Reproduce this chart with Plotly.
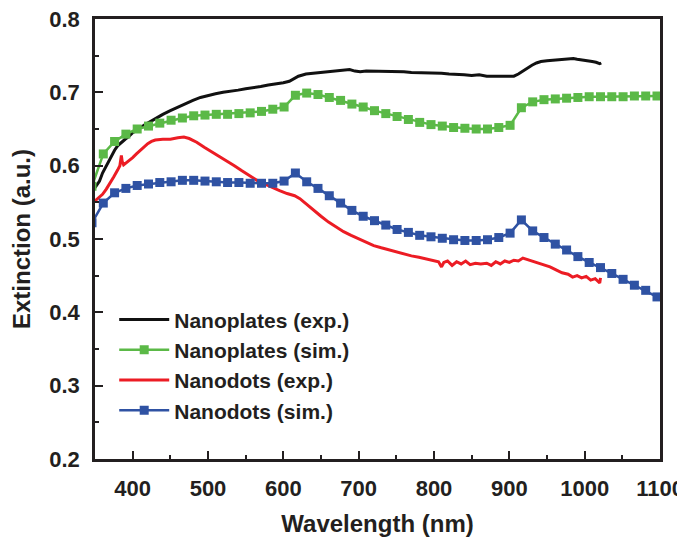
import plotly.graph_objects as go

# simulated spectra (markers every 15 nm)
sim_wl = [346, 361, 376, 391, 406, 421, 436, 451, 466, 481,
          496, 511, 526, 541, 556, 571, 586, 601, 616, 631,
          646, 661, 676, 691, 706, 721, 736, 751, 766, 781,
          796, 811, 826, 841, 856, 871, 886, 901, 916, 931,
          946, 961, 976, 991, 1006, 1021, 1036, 1051, 1066, 1081, 1096]
plates_sim = [0.572, 0.616, 0.633, 0.643, 0.650, 0.654, 0.658, 0.662, 0.665, 0.668,
              0.669, 0.670, 0.670, 0.671, 0.672, 0.674, 0.677, 0.680, 0.696, 0.699,
              0.697, 0.693, 0.689, 0.684, 0.680, 0.675, 0.671, 0.667, 0.663, 0.659,
              0.656, 0.654, 0.652, 0.651, 0.650, 0.650, 0.652, 0.655, 0.679, 0.687,
              0.690, 0.691, 0.692, 0.693, 0.694, 0.694, 0.694, 0.694, 0.695, 0.695, 0.695]
dots_sim = [0.522, 0.549, 0.563, 0.569, 0.573, 0.575, 0.577, 0.578, 0.580, 0.580,
            0.579, 0.578, 0.577, 0.577, 0.576, 0.576, 0.576, 0.579, 0.590, 0.578,
            0.569, 0.559, 0.549, 0.539, 0.531, 0.525, 0.519, 0.513, 0.509, 0.505,
            0.503, 0.501, 0.499, 0.498, 0.498, 0.499, 0.502, 0.508, 0.526, 0.511,
            0.502, 0.493, 0.485, 0.476, 0.468, 0.461, 0.453, 0.445, 0.437, 0.430, 0.421]

# measured spectra
plates_wl = [350, 353, 356, 360, 364, 368, 372, 376, 380, 385, 390, 395, 400, 405, 410,
             415, 420, 425, 430, 440, 450, 460, 470, 480, 490, 500, 510, 520, 530, 540,
             550, 560, 570, 580, 590, 600, 608, 614, 620, 630, 640, 650, 660, 670, 680,
             688, 695, 702, 710, 720, 730, 740, 750, 760, 770, 780, 790, 800, 810, 820,
             830, 840, 850, 860, 870, 880, 890, 900, 906, 912, 918, 924, 930, 936, 942,
             950, 960, 970, 980, 985, 990, 1000, 1010, 1015, 1020, 1022]
plates_exp = [0.570, 0.574, 0.579, 0.590, 0.598, 0.605, 0.614, 0.621, 0.627, 0.632, 0.636, 0.640, 0.645, 0.648, 0.652,
              0.655, 0.658, 0.661, 0.665, 0.670, 0.675, 0.680, 0.685, 0.689, 0.693, 0.696, 0.698, 0.700, 0.701, 0.703,
              0.705, 0.706, 0.708, 0.710, 0.711, 0.713, 0.715, 0.719, 0.722, 0.725, 0.726, 0.727, 0.728, 0.729, 0.730,
              0.731, 0.729, 0.728, 0.729, 0.729, 0.728, 0.729, 0.728, 0.728, 0.727, 0.727, 0.727, 0.726, 0.726, 0.725,
              0.725, 0.724, 0.723, 0.724, 0.722, 0.722, 0.721, 0.721, 0.722, 0.725, 0.729, 0.734, 0.737, 0.740, 0.742,
              0.743, 0.744, 0.744, 0.746, 0.746, 0.745, 0.744, 0.742, 0.741, 0.739, 0.740]

dots_wl = [350, 355, 360, 365, 370, 375, 380, 383, 385, 386, 388, 392, 396, 400, 405,
           410, 415, 420, 425, 430, 440, 450, 460, 468, 475, 485, 495, 505, 515, 525,
           535, 545, 555, 565, 575, 585, 595, 605, 615, 622, 630, 640, 650, 660, 670,
           680, 690, 700, 710, 720, 730, 740, 750, 760, 770, 780, 790, 800, 806, 810,
           813, 818, 824, 830, 836, 842, 848, 855, 862, 870, 876, 882, 888, 894, 900,
           906, 912, 918, 924, 930, 938, 946, 954, 962, 970, 978, 984, 990, 996, 1002,
           1008, 1014, 1018, 1020, 1021]
dots_exp = [0.552, 0.556, 0.561, 0.568, 0.576, 0.585, 0.594, 0.600, 0.614, 0.606, 0.601, 0.604, 0.607, 0.611, 0.616,
            0.621, 0.626, 0.630, 0.633, 0.635, 0.636, 0.636, 0.638, 0.639, 0.637, 0.632, 0.625, 0.619, 0.613, 0.606,
            0.600, 0.593, 0.586, 0.580, 0.575, 0.570, 0.566, 0.562, 0.559, 0.555, 0.548, 0.539, 0.531, 0.523, 0.516,
            0.510, 0.505, 0.500, 0.495, 0.491, 0.488, 0.485, 0.482, 0.479, 0.477, 0.475, 0.473, 0.471, 0.469, 0.462,
            0.468, 0.470, 0.464, 0.469, 0.466, 0.470, 0.465, 0.467, 0.466, 0.467, 0.464, 0.469, 0.466, 0.470, 0.468,
            0.471, 0.470, 0.474, 0.472, 0.469, 0.467, 0.464, 0.462, 0.458, 0.454, 0.452, 0.448, 0.450, 0.447, 0.449,
            0.444, 0.446, 0.441, 0.440, 0.447]

ink = '#231f20'
fnt = 'Liberation Sans, Arial, sans-serif'

fig = go.Figure()
fig.add_trace(go.Scatter(x=plates_wl, y=plates_exp, name='Nanoplates (exp.)', mode='lines',
                         line=dict(color='#111111', width=3)))
fig.add_trace(go.Scatter(x=sim_wl, y=plates_sim, name='Nanoplates (sim.)', mode='lines+markers',
                         line=dict(color='#5bb947', width=2.5),
                         marker=dict(symbol='square', size=9, color='#5bb947')))
fig.add_trace(go.Scatter(x=dots_wl, y=dots_exp, name='Nanodots (exp.)', mode='lines',
                         line=dict(color='#ec1c24', width=3)))
fig.add_trace(go.Scatter(x=sim_wl, y=dots_sim, name='Nanodots (sim.)', mode='lines+markers',
                         line=dict(color='#2f52a3', width=2.5),
                         marker=dict(symbol='square', size=9, color='#2f52a3')))

axis_common = dict(showline=True, linecolor=ink, linewidth=2.5, mirror=True, showgrid=False,
                   zeroline=False, automargin=False, ticklabeloverflow='allow',
                   ticks='inside', ticklen=8, tickwidth=2, tickcolor=ink,
                   tickfont=dict(family=fnt, size=22, color=ink, weight='bold'))

fig.update_xaxes(range=[350, 1100], dtick=100, ticklabelstandoff=8,
                 minor=dict(dtick=50, ticks='inside', ticklen=4, tickwidth=2, tickcolor=ink),
                 title=dict(text='Wavelength (nm)', standoff=16,
                            font=dict(family=fnt, size=24, color=ink, weight='bold')),
                 **axis_common)
fig.update_yaxes(range=[0.2, 0.8], dtick=0.1, tickformat='.1f', ticklabelstandoff=8,
                 minor=dict(dtick=0.05, ticks='inside', ticklen=4, tickwidth=2, tickcolor=ink),
                 title=dict(text='Extinction (a.u.)', standoff=46,
                            font=dict(family=fnt, size=24, color=ink, weight='bold')),
                 **axis_common)

# the page body adds an 8 px offset, so the figure is sized to fit inside the window
fig.update_layout(
    width=677, height=533,
    margin=dict(l=87, r=25, t=11, b=82),
    plot_bgcolor='white', paper_bgcolor='white',
    showlegend=True,
    legend=dict(x=0.034, y=0.363, xanchor='left', yanchor='top', bgcolor='rgba(0,0,0,0)',
                itemwidth=50,
                font=dict(family=fnt, size=21, color=ink, weight='bold'), tracegroupgap=0),
)

fig.write_html("out.html")
